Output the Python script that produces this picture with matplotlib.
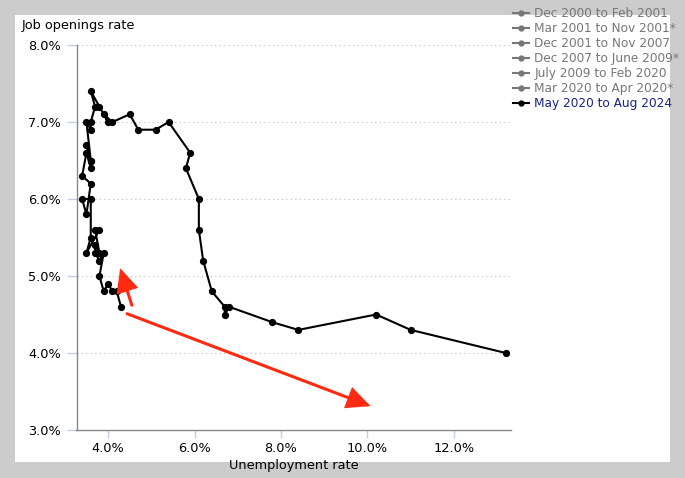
import matplotlib
matplotlib.use("Agg")
import matplotlib.pyplot as plt
from matplotlib.lines import Line2D
from matplotlib.patches import Rectangle, FancyArrowPatch
from matplotlib.ticker import FuncFormatter

# Data: May 2020 to Aug 2024 (unemployment rate %, job openings rate %)
months = ["May20","Jun20","Jul20","Aug20","Sep20","Oct20","Nov20","Dec20",
          "Jan21","Feb21","Mar21","Apr21","May21","Jun21","Jul21","Aug21","Sep21","Oct21","Nov21","Dec21",
          "Jan22","Feb22","Mar22","Apr22","May22","Jun22","Jul22","Aug22","Sep22","Oct22","Nov22","Dec22",
          "Jan23","Feb23","Mar23","Apr23","May23","Jun23","Jul23","Aug23","Sep23","Oct23","Nov23","Dec23",
          "Jan24","Feb24","Mar24","Apr24","May24","Jun24","Jul24","Aug24"]
unemployment = [13.2, 11.0, 10.2, 8.4, 7.8, 6.8, 6.7, 6.7,
                6.4, 6.2, 6.1, 6.1, 5.8, 5.9, 5.4, 5.1, 4.7, 4.5, 4.1, 3.9,
                4.0, 3.8, 3.6, 3.7, 3.6, 3.6, 3.5, 3.6, 3.5, 3.6, 3.6, 3.5,
                3.4, 3.6, 3.5, 3.4, 3.6, 3.6, 3.5, 3.8, 3.7, 3.8, 3.7, 3.7,
                3.8, 3.9, 3.8, 3.9, 4.0, 4.1, 4.2, 4.3]
openings = [4.0, 4.3, 4.5, 4.3, 4.4, 4.6, 4.5, 4.6,
            4.8, 5.2, 5.6, 6.0, 6.4, 6.6, 7.0, 6.9, 6.9, 7.1, 7.0, 7.1,
            7.0, 7.2, 7.4, 7.2, 7.0, 6.9, 7.0, 6.5, 6.7, 6.5, 6.4, 6.6,
            6.3, 6.2, 5.8, 6.0, 6.0, 5.5, 5.3, 5.6, 5.6, 5.3, 5.4, 5.3,
            5.2, 5.3, 5.0, 4.8, 4.9, 4.8, 4.8, 4.6]

legend_labels = ["Dec 2000 to Feb 2001", "Mar 2001 to Nov 2001*", "Dec 2001 to Nov 2007",
                 "Dec 2007 to June 2009*", "July 2009 to Feb 2020", "Mar 2020 to Apr 2020*",
                 "May 2020 to Aug 2024"]
x_ticks = [4, 6, 8, 10, 12]
y_ticks = [3, 4, 5, 6, 7, 8]

# arrows (data coords): (start, end)
arrows = [((4.44, 4.51), (10.07, 3.31)), ((4.55, 4.62), (4.28, 5.10))]

plt.rcParams["font.family"] = ["DejaVu Sans"]
W, H = 685, 478
fig = plt.figure(figsize=(W / 100, H / 100), dpi=100, facecolor="#cccccc")
FS = 9.3
LFS = 8.7

# white panel
fig.patches.append(Rectangle((15 / W, 1 - 462 / H), 655 / W, 447 / H,
                             transform=fig.transFigure, facecolor="white",
                             edgecolor="none", zorder=-5))

ax = fig.add_axes([76.5 / W, 1 - 430 / H, (511 - 76.5) / W, (430 - 45) / H])
ax.set_zorder(2)
ax.set_facecolor("none")
ax.set_xlim(3.27, 13.32)
ax.set_ylim(3, 8)

for s in ["top", "right"]:
    ax.spines[s].set_visible(False)
for s in ["left", "bottom"]:
    ax.spines[s].set_color("#888888")
    ax.spines[s].set_linewidth(1.0)

ax.set_xticks(x_ticks)
ax.set_yticks(y_ticks)
fmt = FuncFormatter(lambda v, p: f"{v:.1f}%")
ax.xaxis.set_major_formatter(fmt)
ax.yaxis.set_major_formatter(fmt)
ax.tick_params(axis="y", length=7, width=1, color="#c0d0e4", labelsize=FS, pad=4)
ax.tick_params(axis="x", length=6, width=1, color="#c0d0e4", labelsize=FS, pad=3)

for yv in y_ticks[1:]:
    ax.axhline(yv, color="#bbbbbb", linestyle=(0, (1, 3)), linewidth=0.8, zorder=1)

ax.plot(unemployment, openings, color="black", linewidth=1.5, marker="o",
        markersize=4.2, zorder=3, clip_on=False)

for (x0, y0), (x1, y1) in arrows:
    ax.add_patch(FancyArrowPatch((x0, y0), (x1, y1),
                                 arrowstyle="-|>,head_length=8.5,head_width=4",
                                 mutation_scale=1.6, color="#ff2a10", linewidth=2.2,
                                 shrinkA=0, shrinkB=0, zorder=4, joinstyle="miter"))

fig.text(22 / W, 1 - 25 / H, "Job openings rate", fontsize=FS, va="center", ha="left")
fig.text(293.75 / W, 1 - 466 / H, "Unemployment rate", fontsize=FS, va="center", ha="center")

handles = []
for i, lab in enumerate(legend_labels):
    c = "black" if i == len(legend_labels) - 1 else "#777777"
    handles.append(Line2D([0], [0], color=c, marker="o", markersize=3.5, linewidth=1.5))
leg = fig.legend(handles, legend_labels, loc="upper left",
                 bbox_to_anchor=(513 / W, 1 - 7 / H), bbox_transform=fig.transFigure,
                 frameon=False, fontsize=LFS, handlelength=1.3, handletextpad=0.45,
                 labelspacing=0.17, borderpad=0, borderaxespad=0)
for i, t in enumerate(leg.get_texts()):
    t.set_color("#1a237e" if i == len(legend_labels) - 1 else "#777777")

fig.savefig("out.png", dpi=100, facecolor=fig.get_facecolor())
